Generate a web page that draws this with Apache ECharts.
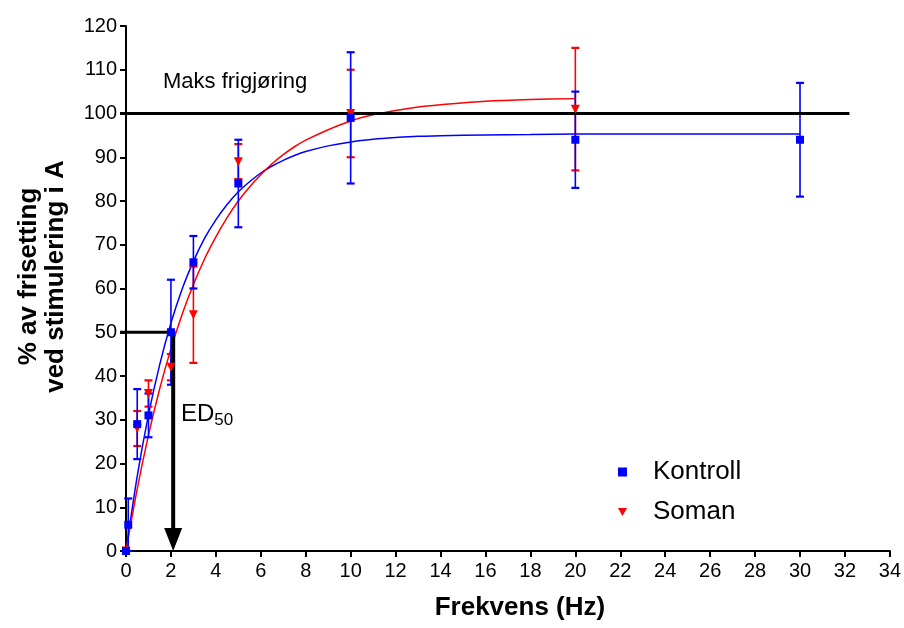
<!DOCTYPE html>
<html>
<head>
<meta charset="utf-8">
<script src="https://cdn.jsdelivr.net/npm/echarts@6/dist/echarts.min.js"></script>
<style>
html,body{margin:0;padding:0;background:#fff;}
#c{width:904px;height:628px;}
</style>
</head>
<body>
<div id="c"></div>
<script>
// ---- data ----
const xTicks = [0,2,4,6,8,10,12,14,16,18,20,22,24,26,28,30,32,34];
// Kontroll: frequency, mean, SEM
const kontrollX   = [0, 0.1, 0.5, 1, 2, 3, 5, 10, 20, 30];
const kontrollY   = [0, 6, 29, 31, 50, 66, 84, 99, 94, 94];
const kontrollErr = [0, 6, 8, 5, 12, 6, 10, 15, 11, 13];
// Soman: frequency, mean, SEM
const somanX   = [0, 0.5, 1, 2, 3, 5, 10, 20];
const somanY   = [0, 28, 36, 42, 54, 89, 100, 101];
const somanErr = [0, 4, 3, 3, 11, 4, 10, 14];
// fitted curves
const kontrollFitX = [0, 0.5, 1, 1.5, 2, 2.5, 3, 3.5, 4, 4.5, 5, 5.5, 6, 6.5, 7, 7.5, 8, 9, 10, 11, 12, 13, 14, 16, 18, 20, 25, 30];
const kontrollFitY = [0, 17.1, 31.1, 42.6, 52.1, 59.9, 66.2, 71.5, 75.7, 79.2, 82.1, 84.4, 86.4, 88.0, 89.3, 90.4, 91.3, 92.6, 93.5, 94.1, 94.5, 94.8, 94.9, 95.1, 95.2, 95.3, 95.3, 95.3];
const somanFitX = [0, 0.5, 1, 1.5, 2, 2.5, 3, 3.5, 4, 4.5, 5, 5.5, 6, 6.5, 7, 7.5, 8, 9, 10, 11, 12, 13, 14, 16, 18, 20];
const somanFitY = [0, 14.2, 26.5, 37.1, 46.2, 54.1, 60.9, 66.8, 71.8, 76.2, 80.0, 83.2, 86.0, 88.5, 90.6, 92.4, 93.9, 96.3, 98.3, 99.7, 100.7, 101.5, 102.0, 102.8, 103.2, 103.4];
// annotations
const maksLevel = 100;
const maksEndX = 32.2;
const ed50X = 2.1;
const ed50Y = 50;
const seriesNames = ['Kontroll', 'Soman'];
const colors = ['#0000ff', '#ff0000'];

const zip = (a, b) => a.map((v, i) => [v, b[i]]);
const errData = (xs, ys, es) => xs.map((x, i) => [x, ys[i] - es[i], ys[i] + es[i]]);

function errRender(color) {
  return function (params, api) {
    const x = api.value(0), lo = api.value(1), hi = api.value(2);
    if (hi === lo) return null;
    const a = api.coord([x, lo]), b = api.coord([x, hi]);
    const w = 4;
    const st = {stroke: color, lineWidth: 1.6};
    return {type: 'group', children: [
      {type: 'line', shape: {x1: a[0], y1: a[1], x2: b[0], y2: b[1]}, style: st},
      {type: 'line', shape: {x1: a[0]-w, y1: a[1], x2: a[0]+w, y2: a[1]}, style: Object.assign({}, st, {lineWidth: 2.2})},
      {type: 'line', shape: {x1: b[0]-w, y1: b[1], x2: b[0]+w, y2: b[1]}, style: Object.assign({}, st, {lineWidth: 2.2})}
    ]};
  };
}

const chart = echarts.init(document.getElementById('c'), null, {renderer: 'canvas'});
const font = '"Liberation Sans", Arial, sans-serif';
const triPath = 'path://M0,0 L10,0 L5,9 Z';

chart.setOption({
  animation: false,
  backgroundColor: '#fff',
  textStyle: {fontFamily: font, color: '#000'},
  grid: {left: 126, right: 11, top: 26, bottom: 77, containLabel: false},
  legend: {
    orient: 'vertical', left: 613, top: 454, itemGap: 14,
    itemWidth: 9, itemHeight: 9,
    textStyle: {fontSize: 26, color: '#000', fontFamily: font, padding: [0, 0, 0, 21]},
    data: [
      {name: seriesNames[0], icon: 'rect'},
      {name: seriesNames[1], icon: triPath}
    ]
  },
  xAxis: {
    type: 'value', min: 0, max: 34, interval: 2,
    name: 'Frekvens (Hz)', nameLocation: 'middle', nameGap: 44,
    nameTextStyle: {fontSize: 26, fontWeight: 'bold', color: '#000', fontFamily: font, padding: [0, 0, 0, 24]},
    axisLine: {lineStyle: {color: '#000', width: 2}},
    axisTick: {show: true, length: 6, lineStyle: {color: '#000', width: 2}},
    axisLabel: {fontSize: 20, color: '#000', margin: 10, fontFamily: font,
      formatter: v => xTicks.includes(v) ? String(v) : ''},
    splitLine: {show: false}
  },
  yAxis: {
    type: 'value', min: 0, max: 120, interval: 10,
    name: '% av frisetting\nved stimulering i A', nameLocation: 'middle', nameGap: 57, nameRotate: 90,
    nameTextStyle: {fontSize: 26, fontWeight: 'bold', color: '#000', fontFamily: font, lineHeight: 27, padding: [0, 0, 0, 24]},
    axisLine: {lineStyle: {color: '#000', width: 2}},
    axisTick: {show: true, length: 6, lineStyle: {color: '#000', width: 2}},
    axisLabel: {fontSize: 20, color: '#000', margin: 9, fontFamily: font},
    splitLine: {show: false}
  },
  graphic: [
    {type: 'text', left: 163, top: 71, style: {text: 'Maks frigjøring', font: '22px "Liberation Sans", Arial, sans-serif', fill: '#000'}},
    {type: 'text', left: 181, top: 402, style: {
      text: '{a|ED}{b|50}', fill: '#000',
      rich: {a: {fontSize: 24, fontFamily: font, fill: '#000'}, b: {fontSize: 17, fontFamily: font, fill: '#000', padding: [12, 0, 0, 0]}}
    }}
  ],
  series: [
    {
      name: 'annotations', type: 'custom', silent: true, clip: false, z: 5,
      data: [[ed50X, ed50Y, maksLevel, maksEndX]],
      renderItem: function (params, api) {
        const o = api.coord([0, 0]);
        const p = api.coord([api.value(0), api.value(1)]);
        const m1 = api.coord([0, api.value(2)]);
        const m2 = api.coord([api.value(3), api.value(2)]);
        const st = {stroke: '#000', lineWidth: 3};
        return {type: 'group', children: [
          {type: 'line', shape: {x1: m1[0]-6, y1: m1[1], x2: m2[0], y2: m2[1]}, style: st},
          {type: 'line', shape: {x1: o[0]-6, y1: p[1], x2: p[0]+2, y2: p[1]}, style: st},
          {type: 'line', shape: {x1: p[0], y1: p[1]-1.5, x2: p[0], y2: o[1]-20}, style: {stroke: '#000', lineWidth: 4}},
          {type: 'polygon', shape: {points: [[p[0]-9, o[1]-23], [p[0]+9, o[1]-23], [p[0], o[1]]]}, style: {fill: '#000'}}
        ]};
      }
    },
    {
      name: 'kontrollFit', type: 'line', data: zip(kontrollFitX, kontrollFitY), smooth: 0.3,
      showSymbol: false, symbol: 'none', lineStyle: {color: colors[0], width: 1.5}, z: 3, silent: true
    },
    {
      name: 'somanFit', type: 'line', data: zip(somanFitX, somanFitY), smooth: 0.3,
      showSymbol: false, symbol: 'none', lineStyle: {color: colors[1], width: 1.5}, z: 3, silent: true
    },
    {
      name: 'somanErr', type: 'custom', data: errData(somanX, somanY, somanErr),
      renderItem: errRender(colors[1]), z: 4, silent: true, clip: false
    },
    {
      name: 'kontrollErr', type: 'custom', data: errData(kontrollX, kontrollY, kontrollErr),
      renderItem: errRender(colors[0]), z: 4, silent: true, clip: false
    },
    {
      name: seriesNames[1], type: 'scatter', data: zip(somanX, somanY),
      symbol: 'triangle', symbolRotate: 180, symbolSize: [9, 9],
      itemStyle: {color: colors[1], opacity: 1}, z: 6, clip: false
    },
    {
      name: seriesNames[0], type: 'scatter', data: zip(kontrollX, kontrollY),
      symbol: 'rect', symbolSize: 8,
      itemStyle: {color: colors[0], opacity: 1}, z: 7, clip: false
    }
  ]
});
</script>
</body>
</html>
